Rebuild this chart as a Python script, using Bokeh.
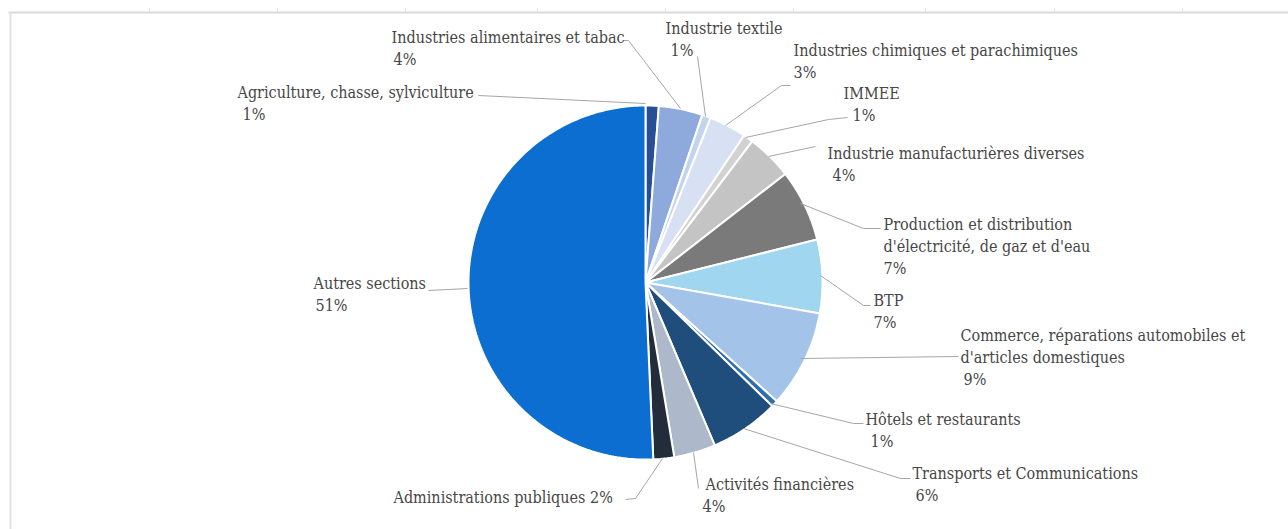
import numpy as np
from bokeh.plotting import figure
from bokeh.models import Range1d
from bokeh.core.properties import value
from bokeh.embed import file_html
from bokeh.resources import INLINE

# ---------------- data ----------------
categories = [
    "Agriculture, chasse, sylviculture",
    "Industries alimentaires et tabac",
    "Industrie textile",
    "Industries chimiques et parachimiques",
    "IMMEE",
    "Industrie manufacturières diverses",
    "Production et distribution\nd'électricité, de gaz et d'eau",
    "BTP",
    "Commerce, réparations automobiles et\nd'articles domestiques",
    "Hôtels et restaurants",
    "Transports et Communications",
    "Activités financières",
    "Administrations publiques",
    "Autres sections",
]
values = [1.2, 4.0, 0.8, 3.4, 0.9, 4.2, 6.6, 6.7, 8.9, 0.6, 6.3, 3.8, 1.9, 50.7]
pct_labels = ["1%", "4%", "1%", "3%", "1%", "4%", "7%", "7%", "9%", "1%", "6%", "4%", "2%", "51%"]
colors = ["#284f96", "#8eaadc", "#c3d4ef", "#d7e1f3", "#d2d2d2", "#c4c4c4", "#7a7a7a",
          "#a0d6ef", "#a3c4e8", "#2e6db0", "#1f4e7d", "#adb8ca", "#232c3b", "#0b6ed0"]

# ---------------- layout ----------------
W, H = 1288, 529
CX, CY, R = 645, 282, 177
LINE_H = 22
# (x of text lines, x of percent line, y of first line centre, percent inline?)
label_pos = [
    (237, 242, 92, False),
    (391, 393, 37, False),
    (665, 670, 28, False),
    (793, 793, 50, False),
    (843, 852, 93, False),
    (827, 832, 153, False),
    (883, 883, 224, False),
    (873, 873, 300, False),
    (960, 963, 335, False),
    (865, 870, 419, False),
    (912, 915, 473, False),
    (705, 702, 484, False),
    (393, None, 497, True),
    (313, 315, 283, False),
]
leaders = [
    [(478, 95), (645, 103)],
    [(622, 40), (628, 40), (680, 108)],
    [(697, 56), (705, 116)],
    [(790, 85), (781, 85), (725, 125)],
    [(847, 117), (828, 119), (745, 137)],
    [(815, 146), (768, 156)],
    [(880, 228), (863, 228), (800, 203)],
    [(870, 305), (863, 305), (820, 275)],
    [(958, 356), (800, 358)],
    [(863, 423), (853, 423), (770, 403)],
    [(910, 478), (900, 478), (743, 428)],
    [(698, 488), (693, 452)],
    [(625, 499), (635, 498), (662, 458)],
    [(428, 290), (467, 288)],
]
top_ticks = [149, 277, 405, 537, 665, 793, 925, 1054, 1182]

p = figure(width=W, height=H, x_range=Range1d(0, W), y_range=Range1d(H, 0),
           output_backend="svg", toolbar_location=None, min_border=0,
           background_fill_color="white", border_fill_color="white")
p.axis.visible = False
p.grid.visible = False
p.outline_line_color = None

# frame of the sheet
p.line([8, W], [12, 12], line_color="#d9d9d9", line_width=2)
p.line([10, 10], [12, H], line_color="#e2e2e2", line_width=2)
p.segment(x0=top_ticks, y0=[8] * len(top_ticks), x1=top_ticks, y1=[12] * len(top_ticks),
          line_color="#e0e0e0", line_width=1)

# pie slices as polygons (clockwise from 12 o'clock)
vals = np.array(values, dtype=float)
frac = vals / vals.sum()
ends = np.cumsum(frac) * 2 * np.pi
starts = ends - frac * 2 * np.pi
xs, ys = [], []
for a0, a1 in zip(starts, ends):
    n = max(4, int((a1 - a0) / (2 * np.pi) * 400))
    t = np.linspace(a0, a1, n)
    xs.append([CX] + list(CX + R * np.sin(t)) + [CX])
    ys.append([CY] + list(CY - R * np.cos(t)) + [CY])
p.patches(xs, ys, fill_color=colors, line_color="white", line_width=2)

# leader lines
p.multi_line([[pt[0] for pt in l] for l in leaders], [[pt[1] for pt in l] for l in leaders],
             line_color="#a6a6a6", line_width=1)

# labels
tx, ty, tt = [], [], []
for cat, pct, (lx, px, y0, inline) in zip(categories, pct_labels, label_pos):
    lines = cat.split("\n")
    if inline:
        lines[-1] = lines[-1] + " " + pct
    for i, ln in enumerate(lines):
        tx.append(lx); ty.append(y0 + i * LINE_H); tt.append(ln)
    if not inline:
        tx.append(px); ty.append(y0 + len(lines) * LINE_H); tt.append(pct)
p.text(x=tx, y=ty, text=tt, text_font=value("DejaVu Serif Condensed"),
       text_font_size="16px", text_color="#474747", text_align="left", text_baseline="middle")

open("out.html", "w").write(file_html(p, INLINE))
